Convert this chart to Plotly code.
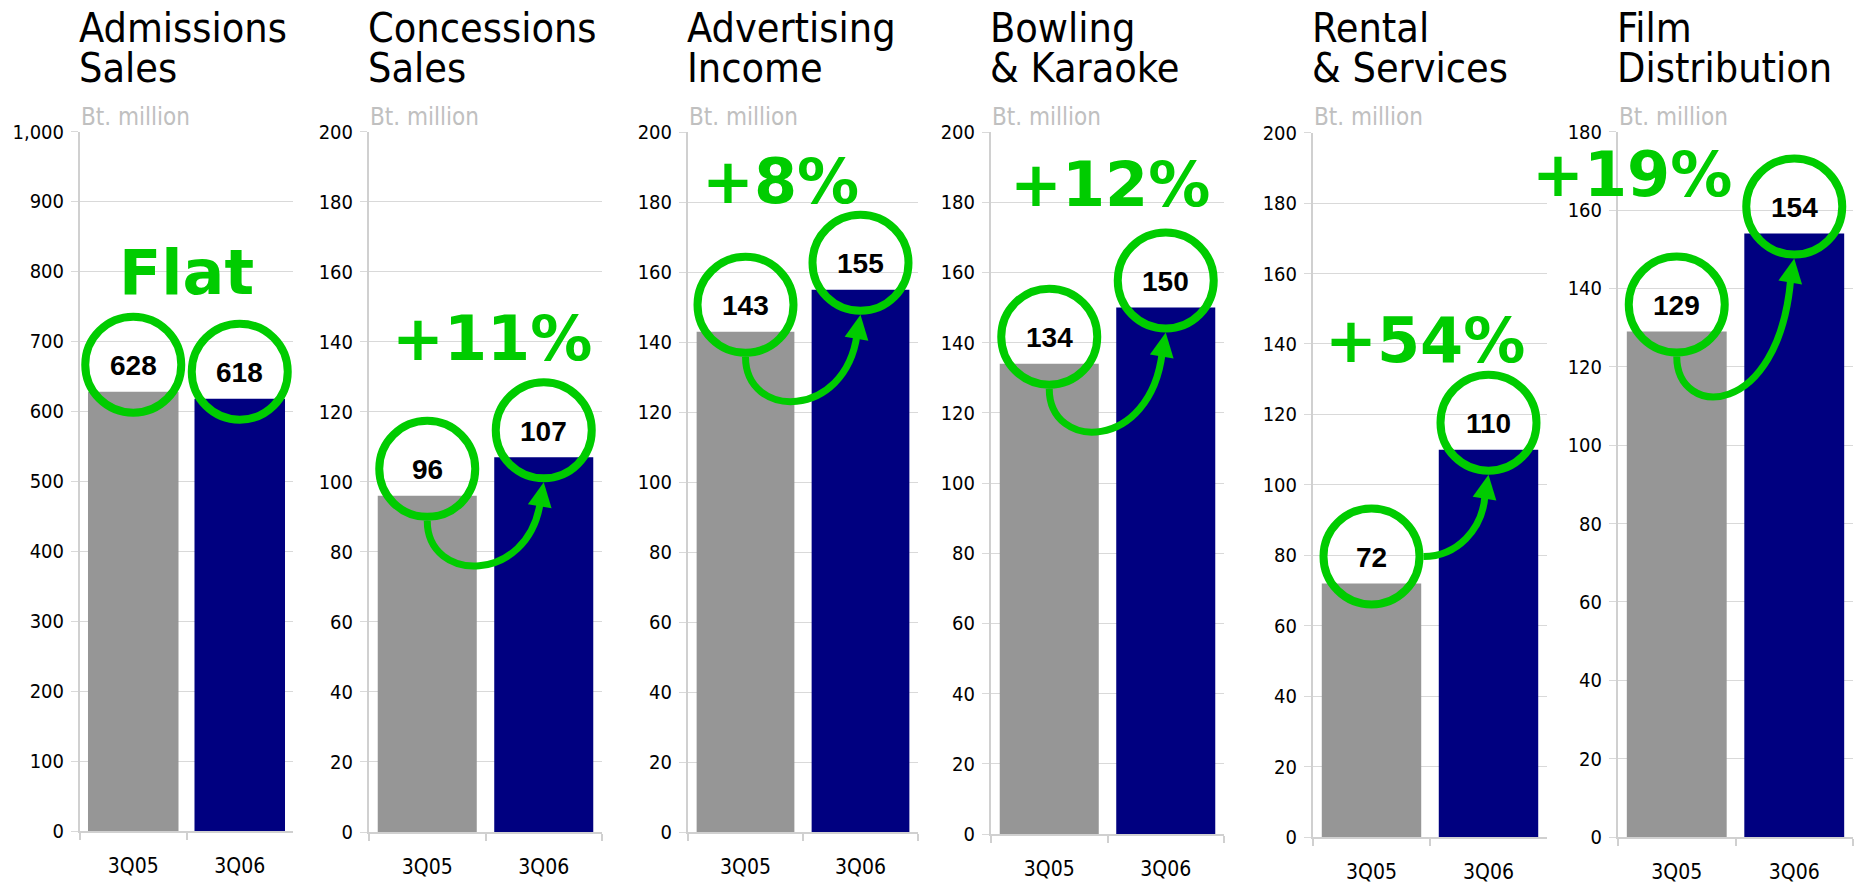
import math
import plotly.graph_objects as go

W, H = 1858, 886

# chart data
titles = [("Admissions", "Sales"), ("Concessions", "Sales"), ("Advertising", "Income"),
          ("Bowling", "& Karaoke"), ("Rental", "& Services"), ("Film", "Distribution")]
periods = ["3Q05", "3Q06"]
value_3q05 = [628, 96, 143, 134, 72, 129]
value_3q06 = [618, 107, 155, 150, 110, 154]
growth_text = ["Flat", "+11%", "+8%", "+12%", "+54%", "+19%"]
axis_max = [1000, 200, 200, 200, 200, 180]
axis_step = [100, 20, 20, 20, 20, 20]
unit_text = "Bt. million"

# layout: plot boxes in pixels (left, right) / (top, bottom)
PANEL_X = [(80, 293), (369, 602), (688, 918), (991, 1224), (1313, 1547), (1618, 1853)]
PANEL_Y = [(131.5, 831), (131.7, 832), (132.3, 832.3), (132, 834), (132.7, 837), (131.7, 837)]
# growth label centre (category units, data units)
GROWTH_POS = [(0.5, 799), (0.553, 141), (0.3, 186), (0.52, 185), (0.457, 141), (-0.385, 169)]
ARROW_STYLE = [None, "under", "under", "under", "side", "under"]

GREEN = "#00cc00"
GREY_BAR = "#969696"
NAVY = "#000080"
GRID = "#d9d9d9"
AXLINE = "#d0d0d0"
FONT = "DejaVu Sans Condensed, DejaVu Sans, sans-serif"

R = 48        # circle centre-line radius, px
R_OUT = 52    # outer edge of circle, px
LIFT = 27     # circle centre above bar top, px


def circle_shape(xr, yr, cat, val):
    return dict(type="circle", xref=xr, yref=yr, xsizemode="pixel", ysizemode="pixel",
                xanchor=cat, yanchor=val, x0=-R, x1=R, y0=LIFT - R, y1=LIFT + R,
                line=dict(color=GREEN, width=8), fillcolor="rgba(0,0,0,0)", layer="above")


def arrow_shapes(xr, yr, i, style):
    """Curved arrow from the 3Q05 circle to the 3Q06 circle (pixel offsets from the 3Q05 bar top)"""
    x0, x1 = PANEL_X[i]
    y0, y1 = PANEL_Y[i]
    k = (y1 - y0) / axis_max[i]
    dx = (x1 - x0) / 2
    c2x, c2y = dx, LIFT + (value_3q06[i] - value_3q05[i]) * k
    ex, ey = c2x - 3.5, c2y - 72
    if style == "under":
        sx, sy = 0, LIFT - R_OUT
        p1 = (0, LIFT - 115)
        p2 = (ex - 12, LIFT - 115)
    else:
        sx, sy = R_OUT, LIFT
        p1 = (85, LIFT)
        p2 = (ex - 2, ey - 35)
    shaft = dict(type="path", xref=xr, yref=yr, xsizemode="pixel", ysizemode="pixel",
                 xanchor=periods[0], yanchor=value_3q05[i],
                 path=f"M {sx},{sy} C {p1[0]},{p1[1]} {p2[0]},{p2[1]} {ex},{ey}",
                 line=dict(color=GREEN, width=7), layer="above")
    tx, ty = c2x, c2y - R_OUT
    bx, by = c2x - 4, c2y - 76
    ln = math.hypot(tx - bx, ty - by)
    nx, ny = -(ty - by) / ln, (tx - bx) / ln
    hw = 12
    head = dict(type="path", xref=xr, yref=yr, xsizemode="pixel", ysizemode="pixel",
                xanchor=periods[0], yanchor=value_3q05[i],
                path=(f"M {tx},{ty} L {bx + hw * nx},{by + hw * ny} "
                      f"L {bx - hw * nx},{by - hw * ny} Z"),
                fillcolor=GREEN, line=dict(width=0), layer="above")
    return [shaft, head]


fig = go.Figure()
shapes = []
annotations = []
axes = {}

for i in range(6):
    n = "" if i == 0 else str(i + 1)
    xr, yr = "x" + n, "y" + n
    x0, x1 = PANEL_X[i]
    y0, y1 = PANEL_Y[i]

    fig.add_trace(go.Bar(
        x=periods,
        y=[value_3q05[i], value_3q06[i]],
        marker=dict(color=[GREY_BAR, NAVY], line=dict(width=0)),
        xaxis=xr, yaxis=yr, showlegend=False, hoverinfo="x+y",
    ))

    axes["xaxis" + n] = dict(
        domain=[x0 / W, x1 / W], anchor=yr, type="category", range=[-0.5, 1.5],
        automargin=False,
        showgrid=False, showline=True, linecolor=AXLINE, linewidth=1.5,
        ticks="outside", tickson="boundaries", ticklen=7, tickcolor=AXLINE, tickwidth=1.5,
        tickfont=dict(family=FONT, size=21, color="black"), ticklabelstandoff=15,
        fixedrange=True,
    )
    axes["yaxis" + n] = dict(
        domain=[1 - y1 / H, 1 - y0 / H], anchor=xr, range=[0, axis_max[i]],
        automargin=False,
        tick0=0, dtick=axis_step[i], tickformat=",d",
        showgrid=True, gridcolor=GRID, gridwidth=1.3, zeroline=False,
        showline=True, linecolor=AXLINE, linewidth=2,
        ticks="outside", ticklen=7, tickcolor=GRID, tickwidth=1.3,
        tickfont=dict(family=FONT, size=20, color="black"), ticklabelstandoff=3,
        fixedrange=True,
    )

    # panel title (two lines) and unit
    for line_txt, ypix in zip(titles[i], (28, 68)):
        annotations.append(dict(
            text=line_txt, xref="paper", yref="paper", x=(x0 - 3) / W, y=1 - ypix / H,
            xanchor="left", yanchor="middle", showarrow=False,
            font=dict(family=FONT, size=41, color="black"),
        ))
    annotations.append(dict(
        text=unit_text, xref="paper", yref="paper", x=(x0 - 1) / W, y=1 - 117 / H,
        xanchor="left", yanchor="middle", showarrow=False,
        font=dict(family=FONT, size=24, color="#c0c0c0"),
    ))

    # circled values
    for cat, val in zip(periods, (value_3q05[i], value_3q06[i])):
        shapes.append(circle_shape(xr, yr, cat, val))
        annotations.append(dict(
            text=f"<b>{val}</b>", xref=xr, yref=yr, x=cat, y=val, yshift=LIFT - 1,
            xanchor="center", yanchor="middle", showarrow=False,
            font=dict(family="Liberation Sans, Arial, sans-serif", size=28, color="black"),
        ))

    if ARROW_STYLE[i]:
        shapes.extend(arrow_shapes(xr, yr, i, ARROW_STYLE[i]))

    gx, gy = GROWTH_POS[i]
    annotations.append(dict(
        text=f"<b>{growth_text[i]}</b>", xref=xr, yref=yr, x=gx, y=gy,
        xanchor="center", yanchor="middle", showarrow=False,
        font=dict(family="DejaVu Sans, sans-serif", size=62, color=GREEN),
    ))

fig.update_layout(
    width=W, height=H,
    margin=dict(l=0, r=0, t=0, b=0, autoexpand=False),
    font=dict(family=FONT, size=20, color="black"),
    paper_bgcolor="white", plot_bgcolor="white",
    bargap=0.15,
    shapes=shapes,
    annotations=annotations,
    **axes,
)

fig.write_html("out.html", config={"displayModeBar": False},
               post_script="document.body.style.margin='0';document.body.style.overflow='hidden';")
